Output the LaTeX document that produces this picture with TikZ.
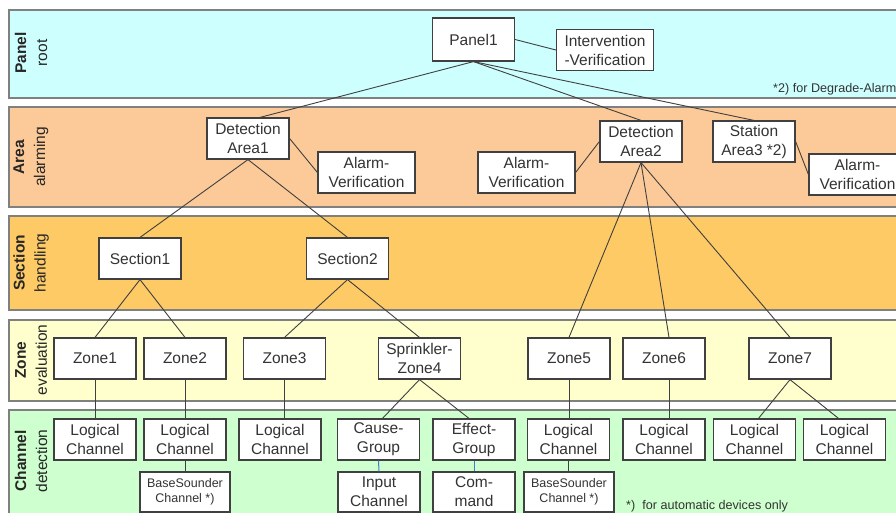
\documentclass[tikz,border=0pt]{standalone}
\usepackage{fontspec}
\setmainfont{Liberation Sans}

\definecolor{panelcol}{RGB}{206,255,255}
\definecolor{areacol}{RGB}{252,202,152}
\definecolor{sectioncol}{RGB}{254,202,102}
\definecolor{zonecol}{RGB}{255,255,206}
\definecolor{channelcol}{RGB}{206,255,206}
\definecolor{boxline}{RGB}{64,64,64}
\definecolor{bandline}{RGB}{128,128,128}
\definecolor{linkblue}{RGB}{60,125,205}

\tikzset{
  band/.style={draw=bandline, line width=1.5pt},
  bandlabel/.style={rotate=90, align=center, inner sep=0pt,
    font=\fontsize{15.5}{21}\selectfont, text=black!85},
  box/.style={draw=boxline, line width=1.2pt, fill=white,
    minimum width=82pt, minimum height=41pt, inner sep=0pt,
    align=center, font=\fontsize{15.5}{19}\selectfont, text=black!80},
  widebox/.style={box, minimum width=97pt},
  smallbox/.style={box, minimum width=90pt, minimum height=40pt,
    font=\fontsize{12.5}{15}\selectfont},
  note/.style={anchor=west, inner sep=0pt,
    font=\fontsize{12.6}{14}\selectfont, text=black!80},
  link/.style={color=black!75, line width=0.9pt},
}

\begin{document}
\begin{tikzpicture}[x=1pt, y=-1pt]
    \useasboundingbox (0,0) rectangle (896,513);
    \fill[white] (0,0) rectangle (896,513);

    % the five bands
    \draw[band, fill=panelcol]   (9,10)  rectangle (905,98);
    \draw[band, fill=areacol]    (9,107) rectangle (905,207);
    \draw[band, fill=sectioncol] (9,216) rectangle (905,310);
    \draw[band, fill=zonecol]    (9,320) rectangle (905,401);
    \draw[band, fill=channelcol] (9,410) rectangle (905,525);

    \node[bandlabel] (lpanel)   at (31,53)  {\textbf{Panel}\\root};
    \node[bandlabel] (larea)    at (31,157) {\textbf{Area}\\alarming};
    \node[bandlabel] (lsection) at (31,263) {\textbf{Section}\\handling};
    \node[bandlabel] (lzone)    at (31,360) {\textbf{Zone}\\evaluation};
    \node[bandlabel] (lchannel) at (31,461) {\textbf{Channel}\\detection};

    % panel
    \node[box, minimum height=43pt] (p1) at (473.5,39.5) {Panel1};
    \node[widebox] (iv) at (605,50) {Intervention\\-Verification};
    \node[note] (n2) at (773,89) {*2) for Degrade-Alarm};

    % areas
    \node[box] (da1) at (248,138.5) {Detection\\Area1};
    \node[widebox] (av1) at (366.5,172.5) {Alarm-\\Verification};
    \node[box] (da2) at (641,141.5) {Detection\\Area2};
    \node[widebox] (av2) at (526.5,172.5) {Alarm-\\Verification};
    \node[box] (sa3) at (754,141.5) {Station\\Area3 *2)};
    \node[widebox] (av3) at (857.5,174.5) {Alarm-\\Verification};

    % sections
    \node[box] (s1) at (140,258.5) {Section1};
    \node[box] (s2) at (347.5,258.5) {Section2};

    % zones
    \node[box] (z1) at (95,358.5) {Zone1};
    \node[box] (z2) at (185,358.5) {Zone2};
    \node[box] (z3) at (284.5,358.5) {Zone3};
    \node[box] (z4) at (419.5,358.5) {Sprinkler-\\Zone4};
    \node[box] (z5) at (569,358.5) {Zone5};
    \node[box] (z6) at (664,358.5) {Zone6};
    \node[box] (z7) at (790,358.5) {Zone7};

    % channels
    \node[box] (lc1) at (95,439.5) {Logical\\Channel};
    \node[box] (lc2) at (185,439.5) {Logical\\Channel};
    \node[box] (lc3) at (280,439.5) {Logical\\Channel};
    \node[box] (cg) at (378.5,439.5) {Cause-\\Group};
    \node[box] (eg) at (474,439.5) {Effect-\\Group};
    \node[box] (lc5) at (568.5,439.5) {Logical\\Channel};
    \node[box] (lc6) at (664,439.5) {Logical\\Channel};
    \node[box] (lc7a) at (754.5,439.5) {Logical\\Channel};
    \node[box] (lc7b) at (844.5,439.5) {Logical\\Channel};

    \node[smallbox] (bs2) at (185,492) {BaseSounder\\Channel *)};
    \node[box, minimum height=40pt] (ic) at (379,492) {Input\\Channel};
    \node[box, minimum height=40pt] (cm) at (474,492) {Com-\\mand};
    \node[smallbox] (bs5) at (569,492) {BaseSounder\\Channel *)};
    \node[note] (n1) at (626,506) {*)\ \ for automatic devices only};

    \path[link]
    (p1.south) edge ([xshift=12pt]da1.north)
    (p1.south) edge (da2.north)
    (p1.south) edge (sa3.north)
    (p1.east) edge (iv.west)
    (da1.east) edge (av1.west)
    (da2.west) edge (av2.east)
    (sa3.east) edge (av3.west)
    (da1.south) edge (s1.north)
    (da1.south) edge (s2.north)
    (da2.south) edge (z5.north)
    (da2.south) edge ([xshift=5pt]z6.north)
    (da2.south) edge (z7.north)
    (s1.south) edge (z1.north)
    (s1.south) edge (z2.north)
    (s2.south) edge (z3.north)
    (s2.south) edge (z4.north)
    (z1.south) edge (z1.south |- lc1.north)
    (z2.south) edge (z2.south |- lc2.north)
    (lc2.south) edge (lc2.south |- bs2.north)
    (z3.south) edge (z3.south |- lc3.north)
    (z4.south) edge ([xshift=4pt]cg.north)
    (z4.south) edge ([xshift=-5pt]eg.north)
    (z5.south) edge (z5.south |- lc5.north)
    (lc5.south) edge (lc5.south |- bs5.north)
    ([xshift=5pt]z6.south) edge ([xshift=5pt]lc6.north)
    (z7.south) edge ([xshift=4pt]lc7a.north)
    (z7.south) edge ([xshift=-6pt]lc7b.north);

    \path[link, color=linkblue, line width=1pt]
    (cg.south) edge (ic.north)
    (eg.south) edge (cm.north);
\end{tikzpicture}
\end{document}
